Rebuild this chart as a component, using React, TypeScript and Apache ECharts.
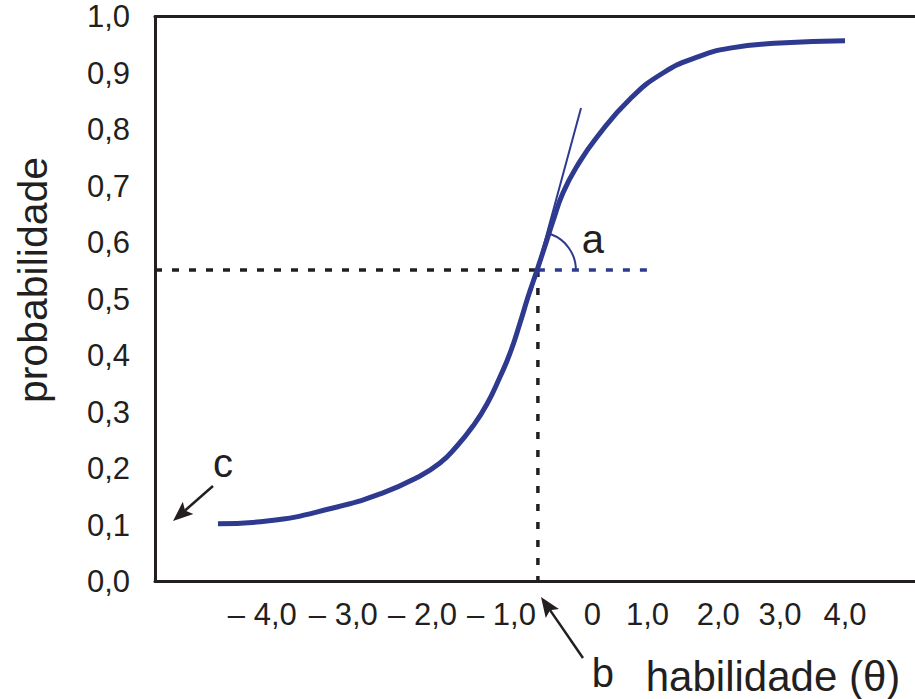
import React, { useEffect, useRef } from 'react';
import * as echarts from 'echarts';

const FONT = '"Liberation Sans", Arial, Helvetica, sans-serif';
const INK = '#231f20';
const BLUE = '#2e3a8f';

// axis ranges
const X_MIN = -5.5;
const X_MAX = 5;
const Y_MIN = 0;
const Y_MAX = 1;
const Y_STEP = 0.1;

// x tick labels (irregularly placed, as in the drawing)
const xTickPositions = [-4.018, -2.898, -1.804, -0.713, 0.544, 1.304, 2.282, 3.135, 4.033];
const xTickLabels = ['– 4,0', '– 3,0', '– 2,0', '– 1,0', '0', '1,0', '2,0', '3,0', '4,0'];

// item characteristic curve
const curveTheta = [-4.63, -3.953, -3.041, -2.35, -1.88, -1.563, -1.328, -1.107, -0.913, -0.734, -0.595, -0.457, -0.347, -0.222, -0.112, -0.001, 0.137, 0.33, 0.607, 1.063, 1.518, 1.988, 2.444, 3.135, 4.033];
const curveProb = [0.102, 0.107, 0.13, 0.157, 0.184, 0.2097, 0.2398, 0.2752, 0.3142, 0.362, 0.404, 0.4575, 0.5035, 0.551, 0.594, 0.638, 0.688, 0.735, 0.7867, 0.854, 0.9, 0.928, 0.944, 0.953, 0.957];

// tangent at the inflection point (discrimination a)
const tangentTheta = [-0.3, 0.386];
const tangentProb = [0.5145, 0.838];

// reference lines
const bTheta = -0.21;
const hLevel = 0.5513;
const blueDashEnd = 1.367;

// annotations
const arrowC = { tail: [-4.699, 0.169], tip: [-5.251, 0.107] };
const arrowB = { tail: [0.413, -0.1354], tip: [-0.167, -0.0274] };
const labelA = [0.551, 0.606];
const labelB = [0.689, -0.162];
const labelC = [-4.561, 0.2097];

const pairs = (xs: number[], ys: number[]) => xs.map((x, i) => [x, ys[i]]);

export default function App() {
  const ref = useRef<HTMLDivElement>(null);

  useEffect(() => {
    if (!ref.current) return;
    const chart = echarts.init(ref.current, undefined, { renderer: 'svg' });

    const option: any = {
      animation: false,
      backgroundColor: '#ffffff',
      grid: { left: 155, top: 16.5, right: 0, bottom: 117.5, containLabel: false },
      xAxis: [
        {
          type: 'value',
          min: X_MIN,
          max: X_MAX,
          axisLine: { show: true, onZero: false, lineStyle: { color: INK, width: 3 } },
          axisTick: { show: false },
          splitLine: { show: false },
          axisLabel: {
            customValues: xTickPositions,
            color: INK,
            fontFamily: FONT,
            fontSize: 31,
            margin: 17,
            formatter: (v: number) => {
              const i = xTickPositions.findIndex((p) => Math.abs(p - v) < 1e-6);
              return i >= 0 ? xTickLabels[i] : '';
            },
          },
        },
        {
          type: 'value',
          position: 'top',
          min: X_MIN,
          max: X_MAX,
          axisLine: { show: true, onZero: false, lineStyle: { color: INK, width: 3 } },
          axisTick: { show: false },
          splitLine: { show: false },
          axisLabel: { show: false },
        },
      ],
      yAxis: {
        type: 'value',
        min: Y_MIN,
        max: Y_MAX,
        interval: Y_STEP,
        axisLine: { show: true, onZero: false, lineStyle: { color: INK, width: 3 } },
        axisTick: { show: false },
        splitLine: { show: false },
        axisLabel: {
          color: INK,
          fontFamily: FONT,
          fontSize: 31,
          margin: 25,
          padding: [11, 0, 0, 0],
          formatter: (v: number) => v.toFixed(1).replace('.', ','),
        },
      },
      series: [
        {
          type: 'line',
          data: [[X_MIN, hLevel], [bTheta, hLevel]],
          symbol: 'none',
          lineStyle: { color: INK, width: 3.5, type: [7, 10] },
          silent: true,
        },
        {
          type: 'line',
          data: [[bTheta, hLevel], [blueDashEnd, hLevel]],
          symbol: 'none',
          lineStyle: { color: BLUE, width: 3.5, type: [7, 10] },
          silent: true,
        },
        {
          type: 'line',
          data: [[bTheta, hLevel], [bTheta, Y_MIN]],
          symbol: 'none',
          lineStyle: { color: INK, width: 3.5, type: [7, 11] },
          silent: true,
        },
        {
          type: 'line',
          data: pairs(tangentTheta, tangentProb),
          symbol: 'none',
          lineStyle: { color: BLUE, width: 2 },
          silent: true,
        },
        {
          type: 'line',
          data: pairs(curveTheta, curveProb),
          smooth: 0.5,
          symbol: 'none',
          lineStyle: { color: BLUE, width: 5, cap: 'butt' },
          silent: true,
        },
      ],
    };
    chart.setOption(option);

    const px = (p: number[]) => chart.convertToPixel({ xAxisIndex: 0, yAxisIndex: 0 }, p) as number[];

    const arrow = (a: { tail: number[]; tip: number[] }) => {
      const t = px(a.tail);
      const h = px(a.tip);
      const dx = h[0] - t[0];
      const dy = h[1] - t[1];
      const len = Math.hypot(dx, dy);
      const ux = dx / len;
      const uy = dy / len;
      const nx = -uy;
      const ny = ux;
      const L = 20;
      const W = 8;
      const bx = h[0] - L * ux;
      const by = h[1] - L * uy;
      return [
        {
          type: 'line',
          shape: { x1: t[0], y1: t[1], x2: bx + 4 * ux, y2: by + 4 * uy },
          style: { stroke: INK, lineWidth: 2.5 },
          silent: true,
        },
        {
          type: 'polygon',
          shape: { points: [[h[0], h[1]], [bx + W * nx, by + W * ny], [bx + 4 * ux, by + 4 * uy], [bx - W * nx, by - W * ny]] },
          style: { fill: INK },
          silent: true,
        },
      ];
    };

    const center = px([bTheta, hLevel]);
    const la = px(labelA);
    const lb = px(labelB);
    const lc = px(labelC);
    const letter = (p: number[], text: string) => ({
      type: 'text',
      x: p[0],
      y: p[1],
      style: { text, fill: INK, font: `40px ${FONT}`, align: 'center', verticalAlign: 'middle' },
      silent: true,
    });

    chart.setOption({
      graphic: [
        {
          type: 'arc',
          shape: { cx: center[0], cy: center[1], r: 38, startAngle: (-70 * Math.PI) / 180, endAngle: 0, clockwise: true },
          style: { stroke: BLUE, lineWidth: 2, fill: 'none' },
          silent: true,
        },
        ...arrow(arrowC),
        ...arrow(arrowB),
        letter(la, 'a'),
        letter(lb, 'b'),
        letter(lc, 'c'),
        {
          type: 'text',
          x: 773,
          y: 676,
          style: { text: 'habilidade (θ)', fill: INK, font: `42px ${FONT}`, align: 'center', verticalAlign: 'middle' },
          silent: true,
        },
        {
          type: 'text',
          x: 33,
          y: 280,
          rotation: Math.PI / 2,
          style: { text: 'probabilidade', fill: INK, font: `41px ${FONT}`, align: 'center', verticalAlign: 'middle' },
          silent: true,
        },
      ],
    });

    return () => chart.dispose();
  }, []);

  return <div ref={ref} style={{ position: 'absolute', left: 0, top: 0, width: 915, height: 699 }} />;
}
